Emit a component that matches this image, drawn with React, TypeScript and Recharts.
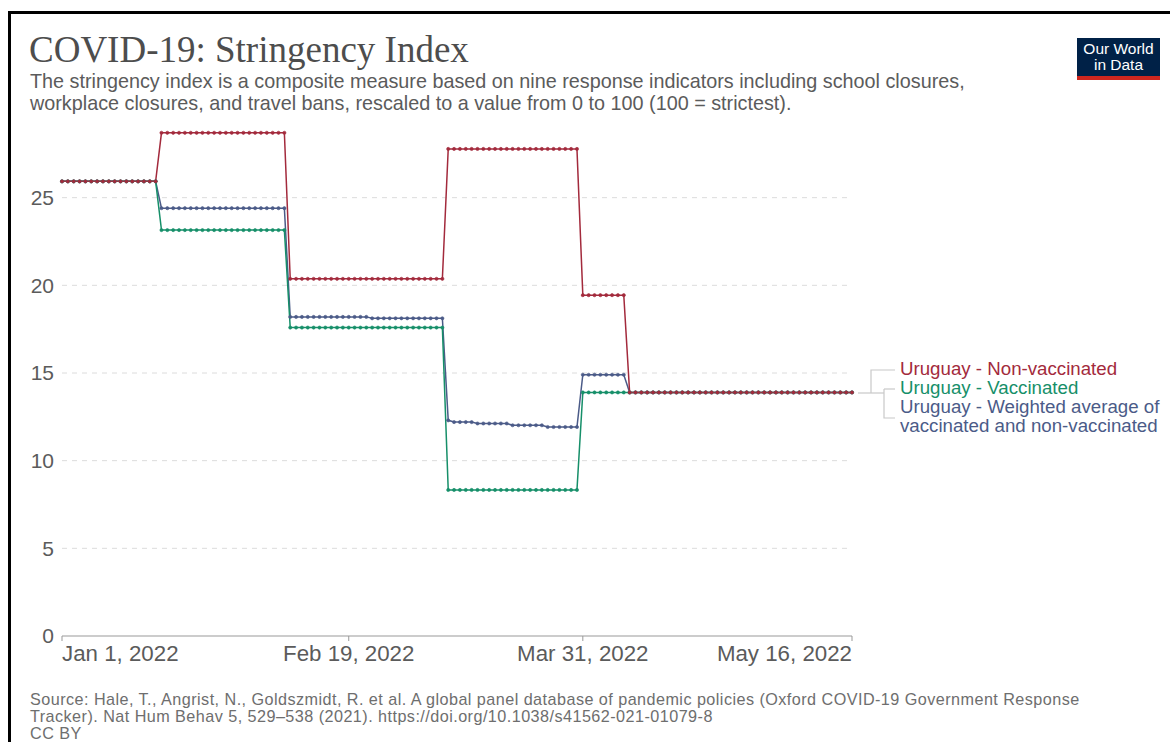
import { LineChart, Line, XAxis, YAxis, CartesianGrid } from "recharts";

// run-length values: [value, number of days]
const nonVaccinatedRuns: [number, number][] = [
  [25.93, 17], [28.7, 22], [20.37, 27], [27.78, 23], [19.44, 8], [13.89, 39],
];
const vaccinatedRuns: [number, number][] = [
  [25.93, 17], [23.15, 22], [17.59, 27], [8.33, 23], [13.89, 47],
];
const weightedRuns: [number, number][] = [
  [25.93, 17], [24.4, 22], [18.2, 14], [18.12, 13],
  [12.3, 1], [12.2, 4], [12.12, 6], [12.02, 6], [11.92, 6],
  [14.9, 8], [13.89, 39],
];

const startDate = new Date(2022, 0, 1);
const tickDays = [0, 49, 89, 135];
const tickLabels = ["Jan 1, 2022", "Feb 19, 2022", "Mar 31, 2022", "May 16, 2022"];
const yTicks = [0, 5, 10, 15, 20, 25];
const gridValues = [5, 10, 15, 20, 25];

const RED = "#a32a3c";
const GREEN = "#168f69";
const BLUE = "#4b5b88";

const expand = (runs: [number, number][]) =>
  runs.flatMap(([v, n]) => Array.from({ length: n }, () => v));

const nonVac = expand(nonVaccinatedRuns);
const vac = expand(vaccinatedRuns);
const weighted = expand(weightedRuns);

const chartData = nonVac.map((v, i) => ({
  day: i,
  date: new Date(startDate.getTime() + i * 86400000).toDateString(),
  nonVaccinated: v,
  vaccinated: vac[i],
  weighted: weighted[i],
}));

const XTick = (props: any) => {
  const { x, y, payload, index } = props;
  const anchor = index === 0 ? "start" : index === tickDays.length - 1 ? "end" : "middle";
  return (
    <text x={x} y={y + 18} textAnchor={anchor} fill="#5b5b5b" fontSize={22.3} fontFamily="Liberation Sans, Arial, sans-serif">
      {tickLabels[tickDays.indexOf(payload.value)]}
    </text>
  );
};

const legendItems = [
  { label: ["Uruguay - Non-vaccinated"], color: RED, top: 359 },
  { label: ["Uruguay - Vaccinated"], color: GREEN, top: 378 },
  { label: ["Uruguay - Weighted average of", "vaccinated and non-vaccinated"], color: BLUE, top: 397 },
];

export default function App() {
  const sans = "Liberation Sans, Arial, sans-serif";
  return (
    <div style={{ position: "absolute", left: 0, top: 0, width: 1170, height: 742, background: "#fff", overflow: "hidden", fontFamily: sans }}>
      <div style={{ position: "absolute", left: 8, top: 11, width: 1300, height: 900, borderTop: "3px solid #000", borderLeft: "3px solid #000" }} />

      <div style={{ position: "absolute", left: 29, top: 30, fontFamily: "Liberation Serif, Times New Roman, serif", fontSize: 37, color: "#4d4d4d", lineHeight: "40px", whiteSpace: "nowrap" }}>
        COVID-19: Stringency Index
      </div>
      <div style={{ position: "absolute", left: 30, top: 70, fontSize: 19.8, color: "#5b5b5b", lineHeight: "22px", whiteSpace: "nowrap" }}>
        The stringency index is a composite measure based on nine response indicators including school closures,
        <br />
        workplace closures, and travel bans, rescaled to a value from 0 to 100 (100 = strictest).
      </div>

      <div style={{ position: "absolute", left: 1077, top: 38, width: 83, height: 42, background: "#002147", color: "#fff", fontSize: 15.5, lineHeight: "16px", textAlign: "center", boxSizing: "border-box", paddingTop: 3 }}>
        Our World
        <br />
        in Data
        <div style={{ position: "absolute", left: 0, bottom: 0, width: 83, height: 4, background: "#ce261e" }} />
      </div>

      <div style={{ position: "absolute", left: 0, top: 0 }}>
        <LineChart width={1170} height={680} data={chartData} margin={{ top: 110, right: 318, bottom: 0, left: 0 }}>
          <CartesianGrid vertical={false} horizontalValues={gridValues} stroke="#dcdcdc" strokeDasharray="5 5" />
          <XAxis
            dataKey="day"
            type="number"
            domain={[0, 135]}
            ticks={tickDays}
            tick={<XTick />}
            height={44}
            axisLine={{ stroke: "#999" }}
            tickLine={{ stroke: "#999" }}
            tickSize={5}
            interval={0}
          />
          <YAxis
            domain={[0, 30]}
            ticks={yTicks}
            width={62}
            axisLine={false}
            tickLine={false}
            tickMargin={2}
            tick={{ fill: "#5b5b5b", fontSize: 21, fontFamily: sans }}
          />
          <Line type="linear" dataKey="weighted" stroke={BLUE} strokeWidth={1.5} dot={{ r: 1.6, fill: BLUE, stroke: BLUE, strokeWidth: 0.6 }} isAnimationActive={false} />
          <Line type="linear" dataKey="vaccinated" stroke={GREEN} strokeWidth={1.5} dot={{ r: 1.6, fill: GREEN, stroke: GREEN, strokeWidth: 0.6 }} isAnimationActive={false} />
          <Line type="linear" dataKey="nonVaccinated" stroke={RED} strokeWidth={1.5} dot={{ r: 1.6, fill: RED, stroke: RED, strokeWidth: 0.6 }} isAnimationActive={false} />
        </LineChart>
      </div>

      <svg style={{ position: "absolute", left: 0, top: 0 }} width={1170} height={742}>
        <g stroke="#c8c8c8" strokeWidth={1.2} fill="none">
          <path d="M858 393 H884" />
          <path d="M871 393 V370 H895" />
          <path d="M884 389 V418 H895" />
          <path d="M884 389 H895" />
        </g>
      </svg>
      {legendItems.map((item) => (
        <div key={item.color} style={{ position: "absolute", left: 900, top: item.top, fontSize: 18.7, lineHeight: "19px", color: item.color, whiteSpace: "nowrap" }}>
          {item.label.map((l, i) => (
            <div key={i}>{l}</div>
          ))}
        </div>
      ))}

      <div style={{ position: "absolute", left: 30, top: 691, fontSize: 16.2, letterSpacing: "0.45px", lineHeight: "17px", color: "#6e6e6e", whiteSpace: "nowrap" }}>
        Source: Hale, T., Angrist, N., Goldszmidt, R. et al. A global panel database of pandemic policies (Oxford COVID-19 Government Response
        <br />
        Tracker). Nat Hum Behav 5, 529–538 (2021). https://doi.org/10.1038/s41562-021-01079-8
        <br />
        CC BY
      </div>
    </div>
  );
}
